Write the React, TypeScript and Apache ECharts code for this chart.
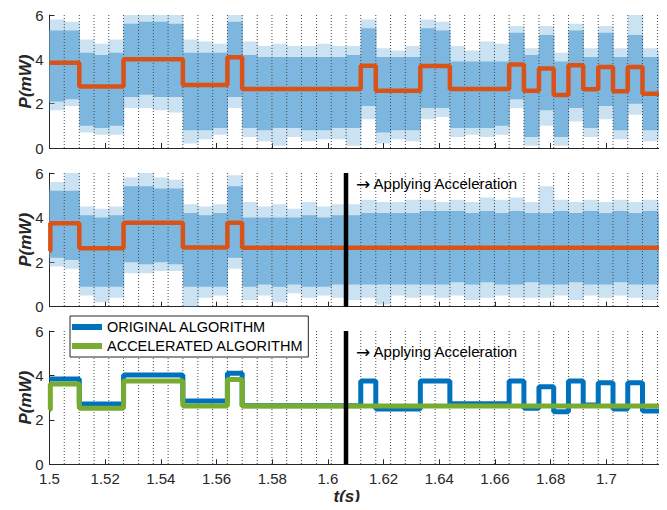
import React, { useEffect, useRef } from "react";
import * as echarts from "echarts";

// ---- data ----
const gridTimes = [
  1.5053, 1.5107, 1.516, 1.5213, 1.5266, 1.532, 1.5373, 1.5426, 1.5479, 1.5533,
  1.5586, 1.5639, 1.5692, 1.5746, 1.5799, 1.5852, 1.5905, 1.5959, 1.6012, 1.6065,
  1.6118, 1.6172, 1.6225, 1.6278, 1.6332, 1.6385, 1.6438, 1.6491, 1.6545, 1.6598,
  1.6651, 1.6704, 1.6758, 1.6811, 1.6864, 1.6917, 1.6971, 1.7024, 1.7077, 1.713,
  1.7184,
];
const tStart = 1.5;
const tEnd = 1.72;
const accelTime = 1.6065;

const topStepTimes = [1.5, 1.5107, 1.5266, 1.5479, 1.5639, 1.5692, 1.6118, 1.6172, 1.6332, 1.6438, 1.6651, 1.6704, 1.6758, 1.6811, 1.6864, 1.6917, 1.6971, 1.7024, 1.7077, 1.713, 1.72];
const topStepValues = [3.85, 2.77, 4.0, 2.84, 4.09, 2.66, 3.71, 2.58, 3.7, 2.66, 3.77, 2.58, 3.59, 2.39, 3.73, 2.65, 3.65, 2.56, 3.65, 2.45, 2.45];

const midStepTimes = [1.5, 1.5003, 1.5107, 1.5266, 1.5479, 1.5639, 1.5692, 1.72];
const midStepValues = [2.5, 3.74, 2.62, 3.77, 2.66, 3.77, 2.65, 2.65];

const origTimes = [1.5, 1.5107, 1.5266, 1.5479, 1.5639, 1.5692, 1.6118, 1.6172, 1.6332, 1.6438, 1.6651, 1.6704, 1.6758, 1.6811, 1.6864, 1.6917, 1.6971, 1.7024, 1.7077, 1.713, 1.72];
const origValues = [3.84, 2.71, 4.02, 2.85, 4.1, 2.64, 3.75, 2.49, 3.75, 2.72, 3.75, 2.52, 3.49, 2.37, 3.75, 2.67, 3.67, 2.49, 3.67, 2.4, 2.4];

const accTimes = [1.5, 1.5003, 1.5107, 1.5266, 1.5479, 1.5639, 1.5692, 1.72];
const accValues = [2.45, 3.62, 2.52, 3.75, 2.62, 3.82, 2.62, 2.62];

// noise envelope per grid cell (core high / core low / spike high / spike low)
const topNoiseHi = [5.3, 5.3, 4.3, 4.2, 4.3, 5.6, 5.7, 5.7, 5.6, 4.3, 4.3, 4.3, 5.7, 4.2, 4.1, 4.1, 4.1, 4.1, 4.1, 4.1, 4.2, 5.4, 4.1, 4.1, 4.1, 5.4, 5.3, 3.9, 3.9, 3.9, 3.9, 5.2, 4.2, 5.1, 3.9, 5.3, 4.1, 5.2, 4.1, 5.1, 4.1, 4.1];
const topNoiseLo = [2.1, 2.2, 1.0, 0.9, 1.0, 2.3, 2.4, 2.3, 2.3, 0.8, 0.8, 0.9, 2.3, 0.9, 0.8, 0.9, 0.9, 0.8, 0.8, 0.9, 0.9, 1.9, 0.7, 0.8, 0.8, 1.8, 1.8, 0.9, 0.9, 0.9, 1.0, 2.2, 0.5, 1.7, 0.5, 1.8, 0.9, 1.9, 0.8, 2.0, 0.8, 0.8];
const topSpikeHi = [5.8, 5.7, 4.9, 4.7, 4.9, 6.0, 6.0, 6.0, 6.0, 4.9, 4.8, 4.7, 6.0, 4.8, 4.6, 4.7, 4.6, 4.6, 4.7, 4.6, 4.6, 5.8, 4.5, 4.4, 4.6, 5.8, 5.7, 4.6, 4.4, 4.8, 4.7, 5.5, 4.5, 5.5, 4.3, 5.6, 4.5, 5.5, 4.5, 6.0, 4.5, 4.4];
const topSpikeLo = [1.7, 1.9, 0.7, 0.6, 0.6, 1.8, 1.8, 1.7, 1.6, 0.2, 0.4, 0.6, 1.8, 0.5, 0.3, 0.1, 0.5, 0.3, 0.4, 0.4, 0.1, 1.3, 0.2, 0.4, 0.3, 1.3, 1.4, 0.5, 0.6, 0.5, 0.6, 1.8, 0.1, 1.0, 0.1, 1.2, 0.5, 1.3, 0.4, 1.5, 0.3, 0.4];

const midNoiseHi = [5.2, 5.2, 4.1, 4.0, 4.1, 5.4, 5.4, 5.3, 5.3, 4.2, 4.1, 4.2, 5.4, 4.0, 4.0, 4.0, 4.0, 4.1, 4.0, 4.1, 4.1, 4.2, 4.2, 4.2, 4.2, 4.3, 4.3, 4.3, 4.2, 4.3, 4.2, 4.3, 4.2, 4.2, 4.3, 4.2, 4.3, 4.2, 4.3, 4.2, 4.3, 4.2];
const midNoiseLo = [2.2, 2.1, 0.9, 0.9, 0.9, 2.0, 1.9, 2.0, 1.9, 0.9, 0.9, 0.9, 2.2, 0.9, 1.0, 0.9, 1.0, 0.9, 0.9, 1.0, 1.0, 1.0, 1.0, 1.0, 1.0, 1.0, 1.0, 1.1, 1.0, 1.1, 1.0, 1.0, 1.1, 1.0, 1.0, 1.1, 1.0, 1.0, 1.1, 1.0, 1.0, 1.0];
const midSpikeHi = [5.6, 6.0, 4.5, 4.4, 4.5, 5.8, 6.0, 5.8, 5.7, 4.6, 4.5, 4.6, 5.9, 4.7, 4.5, 4.6, 4.4, 4.7, 4.5, 4.6, 4.6, 4.8, 4.7, 4.7, 4.8, 4.8, 4.7, 4.8, 4.7, 4.9, 4.8, 4.9, 4.7, 5.4, 4.8, 4.7, 4.8, 4.7, 4.8, 4.7, 4.8, 4.7];
const midSpikeLo = [1.8, 1.7, 0.5, 0.2, 0.4, 1.5, 1.5, 1.6, 1.6, 0.0, 0.4, 0.5, 1.7, 0.3, 0.5, 0.2, 0.6, 0.4, 0.5, 0.4, 0.3, 0.4, 0.1, 0.5, 0.4, 0.5, 0.4, 0.5, 0.3, 0.4, 0.5, 0.4, 0.4, 0.4, 0.5, 0.3, 0.5, 0.4, 0.5, 0.4, 0.3, 0.5];

const yTicks = { min: 0, max: 6, interval: 2 };
const legendNames = ["ORIGINAL ALGORITHM", "ACCELERATED ALGORITHM"];
const annotationArrow = "\u2192";
const annotationText = "Applying Acceleration";

// ---- styling ----
const FONT = "'Liberation Sans', Arial, Helvetica, sans-serif";
const AXIS = "#262626";
const NOISE = "#7DB6DE";
const ORANGE = "#D95319";
const BLUE = "#0072BD";
const GREEN = "#77AC30";

const cellEdges = [tStart, ...gridTimes, tEnd];
function noiseData(hi: number[], lo: number[], shi: number[], slo: number[]) {
  return hi.map((h, i) => [cellEdges[i], cellEdges[i + 1], lo[i], h, slo[i], shi[i]]);
}
function stepData(times: number[], values: number[]) {
  return times.map((t, i) => [t, values[i]]);
}

const renderNoise = (params: any, api: any) => {
  const x0 = api.value(0), x1 = api.value(1);
  const lo = api.value(2), hi = api.value(3), slo = api.value(4), shi = api.value(5);
  const a = api.coord([x0, shi]);
  const b = api.coord([x1, slo]);
  const c = api.coord([x0, hi]);
  const d = api.coord([x1, lo]);
  return {
    type: "group",
    children: [
      { type: "rect", shape: { x: a[0], y: a[1], width: b[0] - a[0] + 0.6, height: b[1] - a[1] }, style: { fill: NOISE, opacity: 0.4 } },
      { type: "rect", shape: { x: c[0], y: c[1], width: d[0] - c[0] + 0.6, height: d[1] - c[1] }, style: { fill: NOISE } },
    ],
  };
};

function makeVLine(stroke: string, lineWidth: number, dash: number[] | null) {
  return (params: any, api: any) => {
    const t = api.value(0);
    const top = api.coord([t, yTicks.max]);
    const bottom = api.coord([t, yTicks.min]);
    return {
      type: "line",
      shape: { x1: top[0], y1: top[1], x2: bottom[0], y2: bottom[1] },
      style: { stroke, lineWidth, lineDash: dash || undefined },
    };
  };
}

const grids = [
  { left: 49.5, right: 5, top: 15, height: 133 },
  { left: 49.5, right: 5, top: 173, height: 133.7 },
  { left: 49.5, right: 5, top: 331, height: 133.3 },
];

function xAxis(i: number, showLabels: boolean) {
  return {
    type: "value",
    gridIndex: i,
    min: tStart,
    max: tEnd,
    interval: 0.02,
    axisLine: { show: true, onZero: false, lineStyle: { color: AXIS, width: 1 } },
    axisTick: { show: true, inside: true, length: 5, lineStyle: { color: AXIS } },
    splitLine: { show: false },
    axisLabel: {
      show: showLabels,
      showMaxLabel: false,
      margin: 7,
      color: AXIS,
      fontSize: 15,
      fontFamily: FONT,
      formatter: (v: number) => String(Number(v.toFixed(2))),
    },
    name: showLabels ? "t(s)" : "",
    nameLocation: "middle",
    nameMoveOverlap: false,
    nameGap: 23.5,
    nameTextStyle: { fontSize: 17, fontWeight: "bold", fontStyle: "italic", color: AXIS, fontFamily: FONT, padding: [0, 18, 0, 0] },
  };
}
function yAxis(i: number) {
  return {
    type: "value",
    gridIndex: i,
    ...yTicks,
    axisLine: { show: true, lineStyle: { color: AXIS, width: 1 } },
    axisTick: { show: true, inside: true, length: 5, lineStyle: { color: AXIS } },
    splitLine: { show: false },
    axisLabel: { margin: 6, color: AXIS, fontSize: 15, fontFamily: FONT },
    name: "P(mW)",
    nameLocation: "middle",
    nameMoveOverlap: false,
    nameGap: 16,
    nameTextStyle: { fontSize: 17, fontWeight: "bold", fontStyle: "italic", color: AXIS, fontFamily: FONT },
  };
}

function gridLineSeries(i: number) {
  return {
    type: "custom",
    name: "grid" + i,
    xAxisIndex: i,
    yAxisIndex: i,
    z: 2,
    silent: true,
    clip: true,
    renderItem: makeVLine("#4a4a4a", 1, [1, 2]),
    encode: { x: 0 },
    data: gridTimes.map((t) => [t]),
  };
}
function accelLineSeries(i: number) {
  return {
    type: "custom",
    name: "accel" + i,
    xAxisIndex: i,
    yAxisIndex: i,
    z: 4,
    silent: true,
    renderItem: makeVLine("#000", 4.5, null),
    encode: { x: 0 },
    data: [[accelTime]],
  };
}
function stepSeries(name: string, i: number, data: number[][], color: string) {
  return {
    type: "line",
    name,
    xAxisIndex: i,
    yAxisIndex: i,
    data,
    step: "end",
    showSymbol: false,
    symbol: "none",
    z: 3,
    lineStyle: { color, width: i === 2 ? 5 : 4.5 },
    itemStyle: { color },
  };
}
function noiseSeries(i: number, data: number[][]) {
  return {
    type: "custom",
    name: "signal" + i,
    xAxisIndex: i,
    yAxisIndex: i,
    z: 1,
    clip: true,
    silent: true,
    renderItem: renderNoise,
    encode: { x: [0, 1], y: [2, 3, 4, 5] },
    data,
  };
}
function annotationGraphic(top: number) {
  return {
    type: "text",
    left: 356,
    top,
    z: 10,
    style: {
      text: "{a|" + annotationArrow + "} " + annotationText,
      fontSize: 15,
      fontFamily: FONT,
      fill: "#000",
      rich: { a: { fontFamily: "'DejaVu Sans'", fontSize: 17, fill: "#000" } },
    },
  };
}

export default function App() {
  const ref = useRef<HTMLDivElement>(null);
  useEffect(() => {
    if (!ref.current) return;
    const chart = echarts.init(ref.current, undefined, { renderer: "svg" });
    chart.setOption({
      animation: false,
      backgroundColor: "#fff",
      textStyle: { fontFamily: FONT },
      grid: grids,
      xAxis: [xAxis(0, false), xAxis(1, false), xAxis(2, true)],
      yAxis: [yAxis(0), yAxis(1), yAxis(2)],
      legend: {
        data: [
          { name: legendNames[0], itemStyle: { color: BLUE } },
          { name: legendNames[1], itemStyle: { color: GREEN } },
        ],
        orient: "vertical",
        left: 70,
        top: 316,
        icon: "rect",
        itemWidth: 30,
        itemHeight: 6,
        itemGap: 3,
        padding: [3, 5, 3, 2],
        backgroundColor: "#fff",
        borderColor: AXIS,
        borderWidth: 1,
        selectedMode: false,
        textStyle: { fontSize: 14.5, color: "#000", fontFamily: FONT, lineHeight: 16 },
      },
      graphic: [annotationGraphic(175), annotationGraphic(343)],
      series: [
        noiseSeries(0, noiseData(topNoiseHi, topNoiseLo, topSpikeHi, topSpikeLo)),
        gridLineSeries(0),
        stepSeries("top", 0, stepData(topStepTimes, topStepValues), ORANGE),
        noiseSeries(1, noiseData(midNoiseHi, midNoiseLo, midSpikeHi, midSpikeLo)),
        gridLineSeries(1),
        stepSeries("middle", 1, stepData(midStepTimes, midStepValues), ORANGE),
        accelLineSeries(1),
        gridLineSeries(2),
        stepSeries(legendNames[0], 2, stepData(origTimes, origValues), BLUE),
        stepSeries(legendNames[1], 2, stepData(accTimes, accValues), GREEN),
        accelLineSeries(2),
      ],
    });
    return () => chart.dispose();
  }, []);
  return <div ref={ref} style={{ width: 667, height: 510, margin: -8 }} />;
}
